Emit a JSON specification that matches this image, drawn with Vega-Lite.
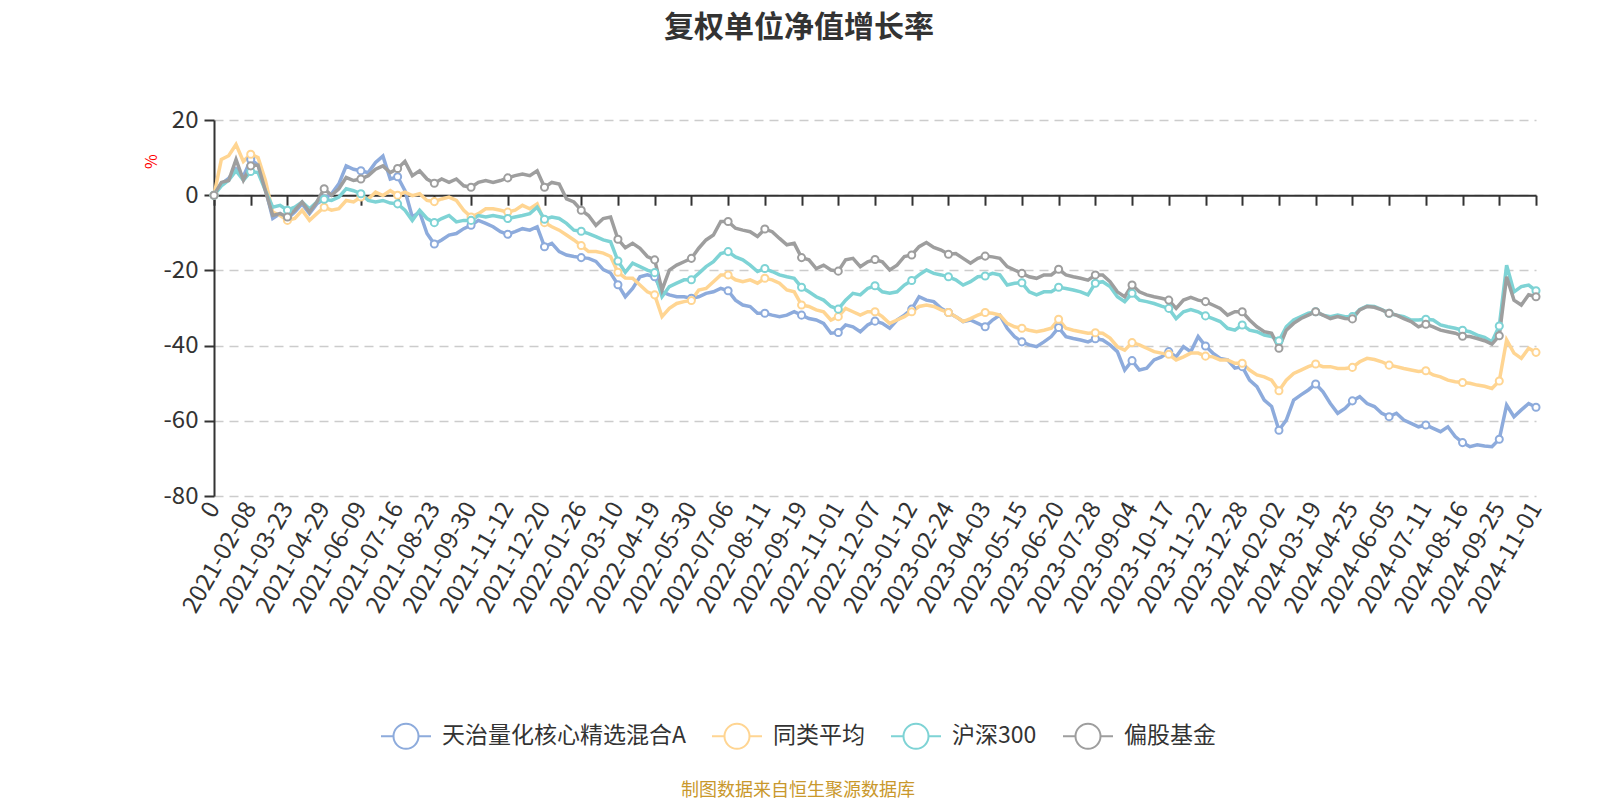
{
  "$schema": "https://vega.github.io/schema/vega-lite/v6.json",
  "autosize": "none",
  "width": 1322,
  "height": 376,
  "padding": {"left": 214, "top": 120, "right": 64, "bottom": 304},
  "background": "#ffffff",
  "config": {"view": {"stroke": null}, "font": "Noto Sans CJK SC"},
  "title": {"text": "复权单位净值增长率", "fontSize": 30, "fontWeight": "bold", "color": "#333333", "anchor": "middle", "dx": -76, "offset": 65, "font": "Noto Sans CJK SC"},
  "data": {"values": [
    {"d":"0","a":0,"b":0,"c":0,"g":0},
    {"d":"2021-01-12","a":3,"b":9.5,"c":2.5,"g":3.4},
    {"d":"2021-01-19","a":4.5,"b":10.5,"c":4,"g":3.9},
    {"d":"2021-01-26","a":7,"b":13.5,"c":6.5,"g":9.5},
    {"d":"2021-02-02","a":5,"b":9,"c":4,"g":4},
    {"d":"2021-02-08","a":9.5,"b":10.9,"c":6.3,"g":7.8},
    {"d":"2021-02-17","a":8,"b":10,"c":6,"g":8},
    {"d":"2021-02-25","a":1.7,"b":3.9,"c":1.2,"g":1.2},
    {"d":"2021-03-05","a":-6.2,"b":-4.5,"c":-3.2,"g":-5.4},
    {"d":"2021-03-15","a":-4.9,"b":-5.4,"c":-2.7,"g":-4.9},
    {"d":"2021-03-23","a":-6.2,"b":-6.7,"c":-4,"g":-5.8},
    {"d":"2021-03-30","a":-4.5,"b":-6.2,"c":-3.2,"g":-4},
    {"d":"2021-04-07","a":-2.3,"b":-4,"c":-1.8,"g":-1.8},
    {"d":"2021-04-14","a":-4.9,"b":-6.7,"c":-3.6,"g":-4.5},
    {"d":"2021-04-22","a":-2.3,"b":-4.9,"c":-1.8,"g":-1.8},
    {"d":"2021-04-29","a":-1,"b":-3.2,"c":-1.1,"g":1.7},
    {"d":"2021-05-07","a":0.4,"b":-4,"c":-1.4,"g":0},
    {"d":"2021-05-14","a":3,"b":-3.6,"c":-0.5,"g":1.7},
    {"d":"2021-05-24","a":7.8,"b":-1.4,"c":1.7,"g":4.7},
    {"d":"2021-06-01","a":6.9,"b":-1.8,"c":1.2,"g":3.9},
    {"d":"2021-06-09","a":6.5,"b":-0.5,"c":0.4,"g":4.3},
    {"d":"2021-06-16","a":6,"b":-1,"c":-1.4,"g":5.2},
    {"d":"2021-06-23","a":8.7,"b":0.8,"c":-1.8,"g":6.9},
    {"d":"2021-07-01","a":10.4,"b":-0.1,"c":-1.4,"g":7.8},
    {"d":"2021-07-08","a":4.3,"b":1.2,"c":-2.1,"g":6},
    {"d":"2021-07-16","a":4.9,"b":0,"c":-2.3,"g":7.1},
    {"d":"2021-07-23","a":1.2,"b":0.8,"c":-4,"g":9},
    {"d":"2021-07-30","a":-5.8,"b":-0.1,"c":-6.7,"g":5.2},
    {"d":"2021-08-06","a":-4.5,"b":0.4,"c":-4,"g":6.5},
    {"d":"2021-08-16","a":-10.2,"b":-1.4,"c":-6.2,"g":4.3},
    {"d":"2021-08-23","a":-13,"b":-1.7,"c":-7.3,"g":3.2},
    {"d":"2021-08-30","a":-11.9,"b":-1,"c":-6.2,"g":4.3},
    {"d":"2021-09-06","a":-10.6,"b":-0.5,"c":-5.4,"g":3.4},
    {"d":"2021-09-14","a":-10.2,"b":-1.4,"c":-7.1,"g":4.3},
    {"d":"2021-09-22","a":-8.9,"b":-4,"c":-6.7,"g":2.5},
    {"d":"2021-09-30","a":-8,"b":-5.8,"c":-6.7,"g":2.1},
    {"d":"2021-10-14","a":-6.7,"b":-4.9,"c":-5.4,"g":3.4},
    {"d":"2021-10-21","a":-7.5,"b":-3.6,"c":-5.8,"g":3.9},
    {"d":"2021-10-28","a":-8.4,"b":-3.6,"c":-5.4,"g":3.4},
    {"d":"2021-11-04","a":-9.7,"b":-4,"c":-5.8,"g":3.9},
    {"d":"2021-11-12","a":-10.4,"b":-4.5,"c":-6.2,"g":4.6},
    {"d":"2021-11-19","a":-9.7,"b":-4,"c":-5.8,"g":5.2},
    {"d":"2021-11-26","a":-8.9,"b":-2.7,"c":-5.4,"g":5.6},
    {"d":"2021-12-03","a":-9.3,"b":-3.6,"c":-4.9,"g":5.2},
    {"d":"2021-12-10","a":-8.4,"b":-2.3,"c":-3.2,"g":6.5},
    {"d":"2021-12-20","a":-13.7,"b":-7.3,"c":-6.4,"g":2.1},
    {"d":"2021-12-27","a":-12.8,"b":-8.4,"c":-5.8,"g":3.4},
    {"d":"2022-01-04","a":-15,"b":-9.3,"c":-6.2,"g":3},
    {"d":"2022-01-11","a":-15.9,"b":-10.6,"c":-7.5,"g":-1},
    {"d":"2022-01-18","a":-16.3,"b":-11.9,"c":-9.3,"g":-1.8},
    {"d":"2022-01-26","a":-16.6,"b":-13.4,"c":-9.6,"g":-4},
    {"d":"2022-02-09","a":-16.8,"b":-15,"c":-10.2,"g":-5.4},
    {"d":"2022-02-16","a":-17.6,"b":-15,"c":-11,"g":-8},
    {"d":"2022-02-23","a":-19.8,"b":-15.4,"c":-11.9,"g":-6.2},
    {"d":"2022-03-02","a":-20.7,"b":-16.3,"c":-12.4,"g":-5.8},
    {"d":"2022-03-10","a":-23.8,"b":-20.5,"c":-17.5,"g":-11.7},
    {"d":"2022-03-17","a":-27,"b":-22,"c":-20.5,"g":-14},
    {"d":"2022-03-24","a":-24.8,"b":-22.1,"c":-18.1,"g":-12.8},
    {"d":"2022-03-31","a":-21.7,"b":-23.9,"c":-19,"g":-14.1},
    {"d":"2022-04-11","a":-21.2,"b":-25.7,"c":-19.9,"g":-16.3},
    {"d":"2022-04-19","a":-21.7,"b":-26.5,"c":-20.6,"g":-17.2},
    {"d":"2022-04-26","a":-25.7,"b":-32.3,"c":-27,"g":-25.2},
    {"d":"2022-05-06","a":-26.5,"b":-30.1,"c":-24.3,"g":-19.9},
    {"d":"2022-05-13","a":-27,"b":-28.8,"c":-23.4,"g":-18.6},
    {"d":"2022-05-20","a":-27,"b":-28.3,"c":-22.5,"g":-17.7},
    {"d":"2022-05-30","a":-27.4,"b":-28,"c":-22.5,"g":-16.8},
    {"d":"2022-06-07","a":-27,"b":-25.2,"c":-20.8,"g":-14.1},
    {"d":"2022-06-14","a":-26.1,"b":-24.8,"c":-19,"g":-11.9},
    {"d":"2022-06-21","a":-25.7,"b":-23,"c":-17.7,"g":-10.6},
    {"d":"2022-06-28","a":-24.8,"b":-21.2,"c":-15.5,"g":-7},
    {"d":"2022-07-06","a":-25.4,"b":-21.2,"c":-15,"g":-7},
    {"d":"2022-07-13","a":-27.9,"b":-22.5,"c":-16.4,"g":-8.8},
    {"d":"2022-07-20","a":-29.2,"b":-23,"c":-17.2,"g":-9.3},
    {"d":"2022-07-27","a":-29.6,"b":-22.5,"c":-18.6,"g":-9.7},
    {"d":"2022-08-03","a":-31.4,"b":-23.4,"c":-20.3,"g":-11},
    {"d":"2022-08-11","a":-31.4,"b":-22.1,"c":-19.5,"g":-9},
    {"d":"2022-08-18","a":-31.9,"b":-22.5,"c":-20.3,"g":-9.7},
    {"d":"2022-08-25","a":-32.3,"b":-23.4,"c":-21.2,"g":-11.5},
    {"d":"2022-09-01","a":-31.9,"b":-25.2,"c":-21.7,"g":-13.2},
    {"d":"2022-09-08","a":-31,"b":-25.7,"c":-22.1,"g":-12.8},
    {"d":"2022-09-19","a":-31.9,"b":-29.2,"c":-24.5,"g":-16.6},
    {"d":"2022-09-26","a":-32.8,"b":-29.6,"c":-25.7,"g":-17.2},
    {"d":"2022-10-11","a":-33.2,"b":-30.5,"c":-27,"g":-19.5},
    {"d":"2022-10-18","a":-34.1,"b":-31,"c":-27.9,"g":-18.6},
    {"d":"2022-10-25","a":-36.7,"b":-33.2,"c":-29.6,"g":-19.9},
    {"d":"2022-11-01","a":-36.5,"b":-32.3,"c":-30.3,"g":-20.2},
    {"d":"2022-11-08","a":-34.5,"b":-30.1,"c":-27.9,"g":-17.2},
    {"d":"2022-11-15","a":-35,"b":-31,"c":-26.1,"g":-16.8},
    {"d":"2022-11-22","a":-36.3,"b":-31.9,"c":-26.5,"g":-19},
    {"d":"2022-11-29","a":-34.5,"b":-31,"c":-24.8,"g":-17.7},
    {"d":"2022-12-07","a":-33.5,"b":-31,"c":-24.1,"g":-17.1},
    {"d":"2022-12-14","a":-34.1,"b":-32.3,"c":-25.7,"g":-17.7},
    {"d":"2022-12-21","a":-35.4,"b":-34.1,"c":-26.1,"g":-19.9},
    {"d":"2022-12-28","a":-33.2,"b":-33.2,"c":-25.7,"g":-18.6},
    {"d":"2023-01-05","a":-31.9,"b":-32.3,"c":-23.9,"g":-16.3},
    {"d":"2023-01-12","a":-30.3,"b":-31,"c":-22.7,"g":-15.9},
    {"d":"2023-01-19","a":-27,"b":-29.6,"c":-21.2,"g":-13.7},
    {"d":"2023-02-02","a":-27.9,"b":-29.2,"c":-19.9,"g":-12.6},
    {"d":"2023-02-09","a":-28.3,"b":-29.6,"c":-20.8,"g":-13.9},
    {"d":"2023-02-16","a":-30.1,"b":-30.5,"c":-21.2,"g":-14.6},
    {"d":"2023-02-24","a":-31.2,"b":-31.2,"c":-21.7,"g":-15.7},
    {"d":"2023-03-03","a":-32.3,"b":-32.3,"c":-22.5,"g":-15.5},
    {"d":"2023-03-10","a":-33.6,"b":-33.6,"c":-23.9,"g":-16.8},
    {"d":"2023-03-17","a":-33.2,"b":-32.8,"c":-23,"g":-18.1},
    {"d":"2023-03-24","a":-34.1,"b":-31.9,"c":-21.7,"g":-16.8},
    {"d":"2023-04-03","a":-35,"b":-31.2,"c":-21.5,"g":-16.2},
    {"d":"2023-04-11","a":-33.2,"b":-31.4,"c":-20.8,"g":-16.4},
    {"d":"2023-04-18","a":-31.9,"b":-31.9,"c":-21.2,"g":-16.8},
    {"d":"2023-04-25","a":-35.4,"b":-34.1,"c":-23.9,"g":-19},
    {"d":"2023-05-08","a":-37.6,"b":-35,"c":-23.4,"g":-19.9},
    {"d":"2023-05-15","a":-39,"b":-35.4,"c":-23.3,"g":-20.8},
    {"d":"2023-05-22","a":-39.8,"b":-35.9,"c":-25.7,"g":-21.7},
    {"d":"2023-05-29","a":-40.3,"b":-36.3,"c":-26.5,"g":-22.1},
    {"d":"2023-06-05","a":-39,"b":-35.9,"c":-25.7,"g":-21.2},
    {"d":"2023-06-12","a":-37.6,"b":-35.4,"c":-25.7,"g":-21.2},
    {"d":"2023-06-20","a":-35.2,"b":-33,"c":-24.5,"g":-19.7},
    {"d":"2023-06-30","a":-37.6,"b":-35.4,"c":-24.8,"g":-21.2},
    {"d":"2023-07-07","a":-38.1,"b":-35.9,"c":-25.2,"g":-21.7},
    {"d":"2023-07-14","a":-38.5,"b":-36.3,"c":-25.7,"g":-22.1},
    {"d":"2023-07-21","a":-39,"b":-36.7,"c":-26.5,"g":-22.6},
    {"d":"2023-07-28","a":-38.2,"b":-36.6,"c":-23.4,"g":-21.2},
    {"d":"2023-08-04","a":-38.5,"b":-36.7,"c":-23,"g":-21.2},
    {"d":"2023-08-11","a":-39.8,"b":-38,"c":-24.3,"g":-23},
    {"d":"2023-08-18","a":-41.6,"b":-40.3,"c":-27,"g":-25.7},
    {"d":"2023-08-25","a":-46.5,"b":-41.2,"c":-28.3,"g":-27},
    {"d":"2023-09-04","a":-44,"b":-39.2,"c":-26.1,"g":-23.9},
    {"d":"2023-09-11","a":-46.5,"b":-39.8,"c":-27.9,"g":-25.7},
    {"d":"2023-09-18","a":-46,"b":-40.7,"c":-28.3,"g":-26.5},
    {"d":"2023-09-25","a":-43.8,"b":-41.6,"c":-28.8,"g":-27},
    {"d":"2023-10-10","a":-43,"b":-42,"c":-29.5,"g":-27.4},
    {"d":"2023-10-17","a":-41.6,"b":-42.3,"c":-30.1,"g":-27.9},
    {"d":"2023-10-24","a":-43,"b":-43.8,"c":-32.8,"g":-30.1},
    {"d":"2023-10-31","a":-40.3,"b":-43,"c":-31,"g":-27.9},
    {"d":"2023-11-07","a":-41.6,"b":-42,"c":-30.4,"g":-27.2},
    {"d":"2023-11-14","a":-37.6,"b":-42,"c":-31,"g":-27.9},
    {"d":"2023-11-22","a":-40.1,"b":-42.8,"c":-32.1,"g":-28.3},
    {"d":"2023-11-29","a":-42,"b":-43,"c":-32.8,"g":-29.2},
    {"d":"2023-12-06","a":-43.4,"b":-43.8,"c":-33.6,"g":-30.1},
    {"d":"2023-12-13","a":-43.8,"b":-43.8,"c":-35.4,"g":-31.9},
    {"d":"2023-12-20","a":-46,"b":-44.7,"c":-35.9,"g":-31},
    {"d":"2023-12-28","a":-45.6,"b":-44.7,"c":-34.5,"g":-31},
    {"d":"2024-01-05","a":-49.2,"b":-46.5,"c":-35.9,"g":-33.2},
    {"d":"2024-01-12","a":-50.9,"b":-47.8,"c":-36.3,"g":-35},
    {"d":"2024-01-19","a":-54.5,"b":-48.3,"c":-37.2,"g":-36.3},
    {"d":"2024-01-26","a":-56.2,"b":-49.2,"c":-37.6,"g":-36.7},
    {"d":"2024-02-02","a":-62.5,"b":-52,"c":-38.7,"g":-40.7},
    {"d":"2024-02-09","a":-59.8,"b":-49.2,"c":-35,"g":-35.9},
    {"d":"2024-02-23","a":-54.5,"b":-47.4,"c":-33.2,"g":-34.1},
    {"d":"2024-03-04","a":-53.1,"b":-46.5,"c":-32.3,"g":-32.8},
    {"d":"2024-03-11","a":-51.8,"b":-45.6,"c":-31.4,"g":-31.9},
    {"d":"2024-03-19","a":-50.2,"b":-44.9,"c":-31,"g":-31},
    {"d":"2024-03-26","a":-52.3,"b":-45.6,"c":-31.9,"g":-31.9},
    {"d":"2024-04-02","a":-55.4,"b":-45.6,"c":-32.3,"g":-32.8},
    {"d":"2024-04-10","a":-58,"b":-46.1,"c":-31.9,"g":-32.3},
    {"d":"2024-04-17","a":-56.7,"b":-46.1,"c":-32.3,"g":-32.8},
    {"d":"2024-04-25","a":-54.7,"b":-45.8,"c":-32.3,"g":-32.9},
    {"d":"2024-05-08","a":-53.6,"b":-44.3,"c":-30.4,"g":-30.5},
    {"d":"2024-05-15","a":-55.4,"b":-43.4,"c":-29.5,"g":-29.6},
    {"d":"2024-05-22","a":-56.2,"b":-43.7,"c":-29.6,"g":-29.8},
    {"d":"2024-05-29","a":-58,"b":-44.3,"c":-30.4,"g":-30.5},
    {"d":"2024-06-05","a":-58.9,"b":-45.2,"c":-31.4,"g":-31.4},
    {"d":"2024-06-13","a":-58,"b":-45.6,"c":-31.9,"g":-31.9},
    {"d":"2024-06-20","a":-59.8,"b":-46.1,"c":-32.3,"g":-32.8},
    {"d":"2024-06-27","a":-60.7,"b":-46.5,"c":-33.2,"g":-33.6},
    {"d":"2024-07-04","a":-61.6,"b":-46.9,"c":-33.2,"g":-35},
    {"d":"2024-07-11","a":-61.1,"b":-46.7,"c":-33,"g":-34.3},
    {"d":"2024-07-18","a":-62,"b":-47.8,"c":-33.2,"g":-35},
    {"d":"2024-07-25","a":-62.9,"b":-48.3,"c":-34.5,"g":-35.9},
    {"d":"2024-08-01","a":-61.6,"b":-49.2,"c":-35,"g":-36.3},
    {"d":"2024-08-08","a":-64.2,"b":-49.6,"c":-35.4,"g":-36.7},
    {"d":"2024-08-16","a":-65.8,"b":-49.8,"c":-35.9,"g":-37.5},
    {"d":"2024-08-23","a":-66.9,"b":-50,"c":-36.3,"g":-37.6},
    {"d":"2024-08-30","a":-66.4,"b":-50.5,"c":-37.2,"g":-38.1},
    {"d":"2024-09-06","a":-66.7,"b":-50.8,"c":-37.8,"g":-38.7},
    {"d":"2024-09-13","a":-66.9,"b":-51.4,"c":-39,"g":-39.6},
    {"d":"2024-09-25","a":-64.9,"b":-49.4,"c":-34.8,"g":-37.4},
    {"d":"2024-09-30","a":-55.8,"b":-38.5,"c":-18.6,"g":-21.7},
    {"d":"2024-10-11","a":-58.9,"b":-42,"c":-25.7,"g":-27.9},
    {"d":"2024-10-18","a":-57.1,"b":-43.4,"c":-24.3,"g":-29.2},
    {"d":"2024-10-25","a":-55.4,"b":-40.7,"c":-23.9,"g":-26.5},
    {"d":"2024-11-01","a":-56.4,"b":-41.8,"c":-25.4,"g":-27}
  ]},
  "transform": [{"fold": ["a", "b", "c", "g"], "as": ["s", "v"]}],
  "encoding": {
    "y": {
      "field": "v", "type": "quantitative",
      "scale": {"domain": [-80, 20], "nice": false, "zero": false},
      "axis": {
        "values": [20, 0, -20, -40, -60, -80],
        "labelExpr": "datum.value + ''",
        "domainColor": "#333333", "domainWidth": 2,
        "tickColor": "#333333", "tickWidth": 2, "tickSize": 10,
        "labelFontSize": 24, "labelColor": "#333333", "labelPadding": 6,
        "gridColor": "#cccccc", "gridDash": [9, 6], "gridWidth": 1.5,
        "title": "%", "titleColor": "#ff0000", "titleFontSize": 16, "titleFontWeight": "normal",
        "titleAngle": 270, "titleX": -63, "titleY": 41, "titleAlign": "center", "titleBaseline": "middle"
      }
    },
    "color": {
      "field": "s", "type": "nominal",
      "scale": {"domain": ["a", "b", "c", "g"], "range": ["#8dabdc", "#ffd592", "#7ed3d5", "#9e9e9e"]},
      "legend": {
        "orient": "none", "legendX": 166, "legendY": 590, "direction": "horizontal",
        "title": "制图数据来自恒生聚源数据库", "titleOrient": "bottom", "titleAnchor": "middle",
        "titleColor": "#c9982c", "titleFontSize": 18, "titleFontWeight": "normal", "titlePadding": 29, "titleLimit": 600,
        "symbolType": "M-1,0L-0.5,0M0.5,0L1,0M-0.5,0A0.5,0.5 0 1,1 0.5,0A0.5,0.5 0 1,1 -0.5,0",
        "symbolSize": 2500, "symbolStrokeWidth": 2, "symbolFillColor": "#ffffff",
        "labelFontSize": 23, "labelColor": "#333333", "labelOffset": 10, "columnPadding": 22, "labelLimit": 600,
        "labelExpr": "{'a':'天治量化核心精选混合A','b':'同类平均','c':'沪深300','g':'偏股基金'}[datum.label]",
        "padding": 0
      }
    }
  },
  "layer": [
    {
      "mark": {"type": "line", "strokeWidth": 3.5},
      "encoding": {
        "x": {
          "field": "d", "type": "ordinal", "scale": {"type": "point", "padding": 0},
          "axis": {
            "orient": "bottom",
            "values": ["0","2021-02-08","2021-03-23","2021-04-29","2021-06-09","2021-07-16","2021-08-23","2021-09-30","2021-11-12","2021-12-20","2022-01-26","2022-03-10","2022-04-19","2022-05-30","2022-07-06","2022-08-11","2022-09-19","2022-11-01","2022-12-07","2023-01-12","2023-02-24","2023-04-03","2023-05-15","2023-06-20","2023-07-28","2023-09-04","2023-10-17","2023-11-22","2023-12-28","2024-02-02","2024-03-19","2024-04-25","2024-06-05","2024-07-11","2024-08-16","2024-09-25","2024-11-01"],
            "domain": false, "ticks": false, "grid": false,
            "labelAngle": -60, "labelFontSize": 24, "labelColor": "#333333", "labelPadding": 8,
            "labelOverlap": false, "labelBound": false, "title": null
          }
        }
      }
    },
    {
      "transform": [{"filter": {"field": "d", "oneOf": ["0","2021-02-08","2021-03-23","2021-04-29","2021-06-09","2021-07-16","2021-08-23","2021-09-30","2021-11-12","2021-12-20","2022-01-26","2022-03-10","2022-04-19","2022-05-30","2022-07-06","2022-08-11","2022-09-19","2022-11-01","2022-12-07","2023-01-12","2023-02-24","2023-04-03","2023-05-15","2023-06-20","2023-07-28","2023-09-04","2023-10-17","2023-11-22","2023-12-28","2024-02-02","2024-03-19","2024-04-25","2024-06-05","2024-07-11","2024-08-16","2024-09-25","2024-11-01"]}}],
      "mark": {"type": "point", "shape": "circle", "filled": false, "fill": "#ffffff", "fillOpacity": 1, "opacity": 1, "size": 50, "strokeWidth": 2},
      "encoding": {
        "x": {
          "field": "d", "type": "ordinal", "scale": {"type": "point", "padding": 0},
          "axis": {
            "orient": "bottom", "offset": -300.8,
            "values": ["0","2021-02-08","2021-03-23","2021-04-29","2021-06-09","2021-07-16","2021-08-23","2021-09-30","2021-11-12","2021-12-20","2022-01-26","2022-03-10","2022-04-19","2022-05-30","2022-07-06","2022-08-11","2022-09-19","2022-11-01","2022-12-07","2023-01-12","2023-02-24","2023-04-03","2023-05-15","2023-06-20","2023-07-28","2023-09-04","2023-10-17","2023-11-22","2023-12-28","2024-02-02","2024-03-19","2024-04-25","2024-06-05","2024-07-11","2024-08-16","2024-09-25","2024-11-01"],
            "domain": true, "domainColor": "#333333", "domainWidth": 2,
            "ticks": true, "tickColor": "#333333", "tickWidth": 2, "tickSize": 10,
            "labels": false, "grid": false, "title": null
          }
        }
      }
    }
  ],
  "resolve": {"axis": {"x": "independent"}}
}
